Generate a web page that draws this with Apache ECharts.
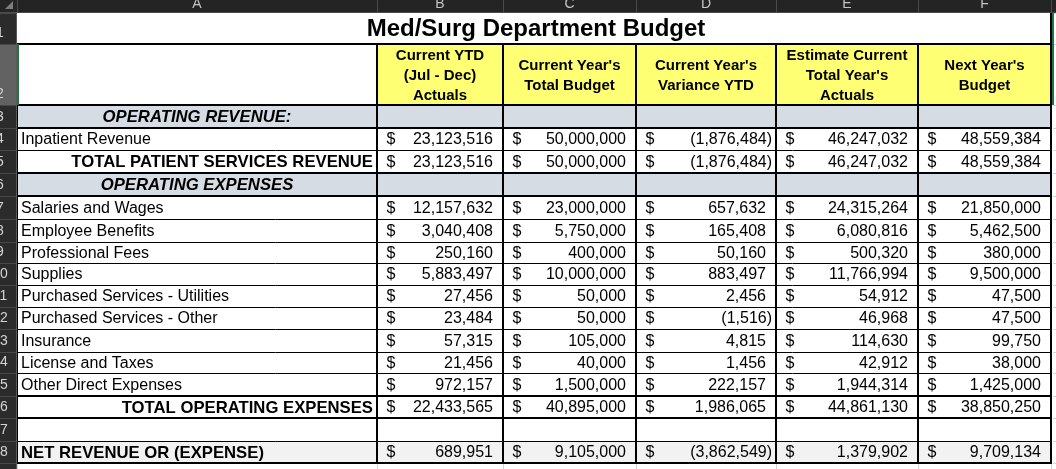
<!DOCTYPE html>
<html><head><meta charset="utf-8">
<script src="https://cdn.jsdelivr.net/npm/echarts@6/dist/echarts.min.js"></script>
<style>html,body{margin:0;padding:0;background:#fff}#c{width:1056px;height:469px}</style>
</head><body><div id="c"></div>
<script>
// ---------------- DATA ----------------
const title = 'Med/Surg Department Budget';
const columnLetters = ['A', 'B', 'C', 'D', 'E', 'F'];
const columnHeaders = ['', 'Current YTD\n(Jul - Dec)\nActuals', "Current Year's\nTotal Budget", "Current Year's\nVariance YTD", "Estimate Current\nTotal Year's\nActuals", "Next Year's\nBudget"];
const rowLabels = ['OPERATING REVENUE:', 'Inpatient Revenue', 'TOTAL PATIENT SERVICES REVENUE', 'OPERATING EXPENSES',
  'Salaries and Wages', 'Employee Benefits', 'Professional Fees', 'Supplies', 'Purchased Services - Utilities',
  'Purchased Services - Other', 'Insurance', 'License and Taxes', 'Other Direct Expenses', 'TOTAL OPERATING EXPENSES',
  '', 'NET REVENUE OR (EXPENSE)'];
const ytdActuals      = [null, 23123516, 23123516, null, 12157632, 3040408, 250160, 5883497, 27456, 23484, 57315, 21456, 972157, 22433565, null, 689951];
const totalBudget     = [null, 50000000, 50000000, null, 23000000, 5750000, 400000, 10000000, 50000, 50000, 105000, 40000, 1500000, 40895000, null, 9105000];
const varianceYTD     = [null, -1876484, -1876484, null, 657632, 165408, 50160, 883497, 2456, -1516, 4815, 1456, 222157, 1986065, null, -3862549];
const estimateActuals = [null, 46247032, 46247032, null, 24315264, 6080816, 500320, 11766994, 54912, 46968, 114630, 42912, 1944314, 44861130, null, 1379902];
const nextYearBudget  = [null, 48559384, 48559384, null, 21850000, 5462500, 380000, 9500000, 47500, 47500, 99750, 38000, 1425000, 38850250, null, 9709134];
const valueColumns = [ytdActuals, totalBudget, varianceYTD, estimateActuals, nextYearBudget];

// ---------------- LAYOUT / STYLE ----------------
const rowKinds = ['section', 'item', 'total', 'section', 'item', 'item', 'item', 'item', 'item', 'item', 'item', 'item', 'item', 'total', 'blank', 'net'];
const W = 1056, H = 469;
const colEdges = [17, 377, 503, 636, 776, 918, 1051];
const rowEdges = [13, 44, 105, 128, 150, 173, 196, 219, 242, 263, 285, 307, 329, 352, 373, 396, 418, 441, 463, 486];
const thickRowEdges = [1, 2, 3, 5, 6, 15, 16, 18];
const FF = '"Liberation Sans", Arial, sans-serif';
const font = (sz, w, st) => `${st || 'normal'} ${w || 'normal'} ${sz}px ${FF}`;

const pieces = [];
const rect = (x0, y0, x1, y1, fill) => pieces.push({ t: 'rect', x0, y0, x1, y1, fill });
const line = (x0, y0, x1, y1, stroke, w) => pieces.push({ t: 'line', x0, y0, x1, y1, stroke, w });
const text = (x, y, s, align, fnt, fill, lh) => pieces.push({ t: 'text', x, y, s, align, fnt, fill: fill || '#000', lh });

const XL = colEdges[0], XR = colEdges[colEdges.length - 1];
const fmt = v => { const s = Math.abs(v).toLocaleString('en-US'); return v < 0 ? '(' + s + ')' : s; };

// Excel chrome: column header band and row header column
rect(0, 0, W, rowEdges[0], '#242424');
rect(0, rowEdges[0], XL, H, '#2b2b2b');
rect(0, rowEdges[1], XL, rowEdges[2], '#626262');
// right strip beyond F
for (let k = 0; k < rowEdges.length; k++) line(XR + 2, rowEdges[k] + 0.5, W, rowEdges[k] + 0.5, '#d4d4d4', 1);
// row 19 gridlines
colEdges.forEach(x => line(x + 0.5, rowEdges[18], x + 0.5, H, '#d4d4d4', 1));

// Title (row 1)
text((XL + XR) / 2 + 2, 29, title, 'center', font(24, 'bold'), '#000');

// Header row 2
rect(colEdges[1], rowEdges[1], XR, rowEdges[2], '#ffff73');
for (let c = 1; c < columnHeaders.length; c++) {
  text((colEdges[c] + colEdges[c + 1]) / 2, 75.5, columnHeaders[c], 'center', font(15, 'bold'), '#000', 20);
}

// Body rows 3..18
rowLabels.forEach((label, i) => {
  const r = i + 3;
  const y0 = rowEdges[r - 1], y1 = rowEdges[r];
  const yc = (y0 + y1) / 2 + 1;
  const kind = rowKinds[i];
  if (kind === 'section') rect(XL, y0, XR, y1, '#d6dce4');
  if (kind === 'net') rect(XL, y0, XR, y1, '#f2f2f2');
  if (kind === 'section') text((colEdges[0] + colEdges[1]) / 2, yc, label, 'center', font(16.7, 'bold', 'italic'));
  else if (kind === 'total') text(colEdges[1] - 4, yc, label, 'right', font(16.7, 'bold'));
  else if (kind === 'net') text(XL + 4, yc, label, 'left', font(16.7, 'bold'));
  else if (kind === 'item') text(XL + 4, yc, label, 'left', font(16));
  valueColumns.forEach((arr, j) => {
    const v = arr[i];
    if (v === null || v === undefined) return;
    const cx0 = colEdges[j + 1], cx1 = colEdges[j + 2];
    text(cx0 + 9.5, yc, '$', 'left', font(16));
    text(v < 0 ? cx1 - 4 : cx1 - 10, yc, fmt(v), 'right', font(16));
  });
});

// Borders
for (let k = 1; k <= 18; k++) {
  const thick = thickRowEdges.indexOf(k) >= 0;
  const y = rowEdges[k];
  if (thick) line(XL, y, XR + 1, y, '#000', 2);
  else line(XL, y + 0.5, XR, y + 0.5, '#000', 1);
}
for (let c = 1; c < colEdges.length - 1; c++) line(colEdges[c], rowEdges[1], colEdges[c], rowEdges[18], '#000', 2);
line(XL + 0.5, rowEdges[1], XL + 0.5, rowEdges[18], '#000', 1);
line(XR, rowEdges[0], XR, rowEdges[18] + 1, '#000', 2);
// selection highlight (green)
line(XL + 1, rowEdges[1], XL + 1, rowEdges[2], '#217346', 2);
line(XR + 2, rowEdges[0], XR + 2, rowEdges[2], '#217346', 2);

// Row header separators and numbers
for (let k = 0; k < rowEdges.length; k++) line(0, rowEdges[k] + 0.5, XL, rowEdges[k] + 0.5, '#474747', 1);
line(XL - 0.5, rowEdges[0], XL - 0.5, H, '#5a5a5a', 1);
for (let r = 1; r <= 19; r++) text(0, rowEdges[r] - 11, String(r), 'center', font(14), '#d4d4d4');

// Column header letters and separators
for (let c = 0; c < columnLetters.length; c++) text((colEdges[c] + colEdges[c + 1]) / 2, 4, columnLetters[c], 'center', font(14), '#c4c4c4');
colEdges.forEach(x => line(x + 0.5, 0, x + 0.5, rowEdges[0], '#4a4a4a', 1));
line(0, rowEdges[0] - 0.5, W, rowEdges[0] - 0.5, '#4a4a4a', 1);
pieces.push({ t: 'poly', pts: [[13, 1], [13, 9], [5, 9]], fill: '#7d7d7d' });

// ---------------- CHART ----------------
const chart = echarts.init(document.getElementById('c'), null, { renderer: 'canvas' });
chart.setOption({
  animation: false,
  backgroundColor: '#ffffff',
  grid: { left: 0, right: 0, top: 0, bottom: 0 },
  xAxis: { type: 'value', min: 0, max: W, show: false },
  yAxis: { type: 'value', min: 0, max: H, inverse: true, show: false },
  series: [{
    type: 'custom',
    silent: true,
    clip: false,
    data: pieces.map((p, i) => [i, 0]),
    renderItem: function (params, api) {
      const p = pieces[params.dataIndex];
      const z2 = params.dataIndex;
      if (p.t === 'rect') {
        const a = api.coord([p.x0, p.y0]), b = api.coord([p.x1, p.y1]);
        return { type: 'rect', z2, shape: { x: a[0], y: a[1], width: b[0] - a[0], height: b[1] - a[1] }, style: { fill: p.fill } };
      }
      if (p.t === 'line') {
        const a = api.coord([p.x0, p.y0]), b = api.coord([p.x1, p.y1]);
        return { type: 'line', z2, shape: { x1: a[0], y1: a[1], x2: b[0], y2: b[1] }, style: { stroke: p.stroke, lineWidth: p.w } };
      }
      if (p.t === 'poly') {
        return { type: 'polygon', z2, shape: { points: p.pts.map(q => api.coord(q)) }, style: { fill: p.fill } };
      }
      const a = api.coord([p.x, p.y]);
      const st = { text: p.s, x: a[0], y: a[1], align: p.align, verticalAlign: 'middle', font: p.fnt, fill: p.fill };
      if (p.lh) st.lineHeight = p.lh;
      return { type: 'text', z2, style: st };
    }
  }]
});
</script>
</body></html>
